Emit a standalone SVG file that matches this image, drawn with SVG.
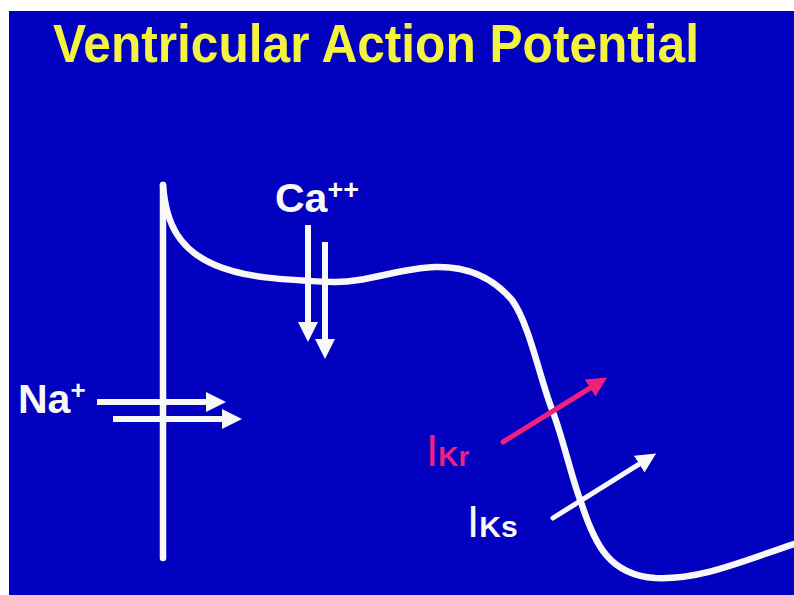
<svg xmlns="http://www.w3.org/2000/svg" width="794" height="595" viewBox="0 0 794 595">
  <style>
    .t { font-family: "Liberation Sans", Arial, sans-serif; font-weight: bold; }
    .n { font-family: "Liberation Sans", Arial, sans-serif; font-weight: normal; }
    .w { fill: #F8F8F8; }
    .trace { fill: none; stroke: #F8F8F8; stroke-width: 6.5; stroke-linecap: round; stroke-linejoin: round; }
    .arr { fill: none; stroke: #F8F8F8; stroke-width: 6; }
    .arrK { fill: none; stroke: #F8F8F8; stroke-width: 5; stroke-linecap: round; }
    .arrR { fill: none; stroke: #F0207E; stroke-width: 5; stroke-linecap: round; }
  </style>
  <defs>
    <marker id="hw" markerUnits="userSpaceOnUse" markerWidth="20" markerHeight="20" viewBox="0 0 20 20" refX="1" refY="10" orient="auto">
      <path d="M0,0 L20,10 L0,20 z" fill="#F8F8F8"/>
    </marker>
    <marker id="hr" markerUnits="userSpaceOnUse" markerWidth="20" markerHeight="20" viewBox="0 0 20 20" refX="1" refY="10" orient="auto">
      <path d="M0,0 L20,10 L0,20 z" fill="#F0207E"/>
    </marker>
  </defs>
  <rect x="0" y="0" width="794" height="595" fill="#FFFFFF"/>
  <rect x="9" y="11" width="785" height="584" fill="#0101BF"/>

  <g id="title">
    <text class="t" x="53" y="62" font-size="53" fill="#F2F23F" textLength="646" lengthAdjust="spacingAndGlyphs">Ventricular Action Potential</text>
  </g>

  <g id="action-potential">
    <line class="trace" x1="163" y1="185" x2="163" y2="558"/>
    <path class="trace" d="M163,185 C166,225 180,250 215,265 C245,278 285,280 333,282 C365,283 400,268 435,267 C470,266 495,280 512,300 C530,325 540,380 553,412 C565,445 572,480 582,505 C595,545 610,575 655,578 C700,580 740,562 794,544"/>
  </g>

  <g id="label-na">
    <text class="t w" x="18" y="413" font-size="41">Na<tspan font-size="26" dy="-14">+</tspan></text>
  </g>
  <g id="label-ca">
    <text class="t w" x="275" y="212" font-size="41">Ca<tspan font-size="27" dy="-13">++</tspan></text>
  </g>
  <g id="label-ikr">
    <text class="n" x="426" y="466" fill="#F0207E"><tspan font-size="44">I</tspan><tspan font-size="28" font-weight="bold">Kr</tspan></text>
  </g>
  <g id="label-iks">
    <text class="n w" x="467" y="537"><tspan font-size="44">I</tspan><tspan font-size="30" font-weight="bold">Ks</tspan></text>
  </g>

  <g id="connectors">
    <line class="arr" x1="97" y1="402" x2="207" y2="402" marker-end="url(#hw)"/>
    <line class="arr" x1="113" y1="419" x2="223" y2="419" marker-end="url(#hw)"/>
    <line class="arr" x1="308" y1="225" x2="308" y2="323" marker-end="url(#hw)"/>
    <line class="arr" x1="325" y1="242" x2="325" y2="340" marker-end="url(#hw)"/>
    <line class="arrR" x1="503" y1="442" x2="591" y2="387.5" marker-end="url(#hr)"/>
    <line class="arrK" x1="553" y1="518" x2="640" y2="463.6" marker-end="url(#hw)"/>
  </g>
</svg>
